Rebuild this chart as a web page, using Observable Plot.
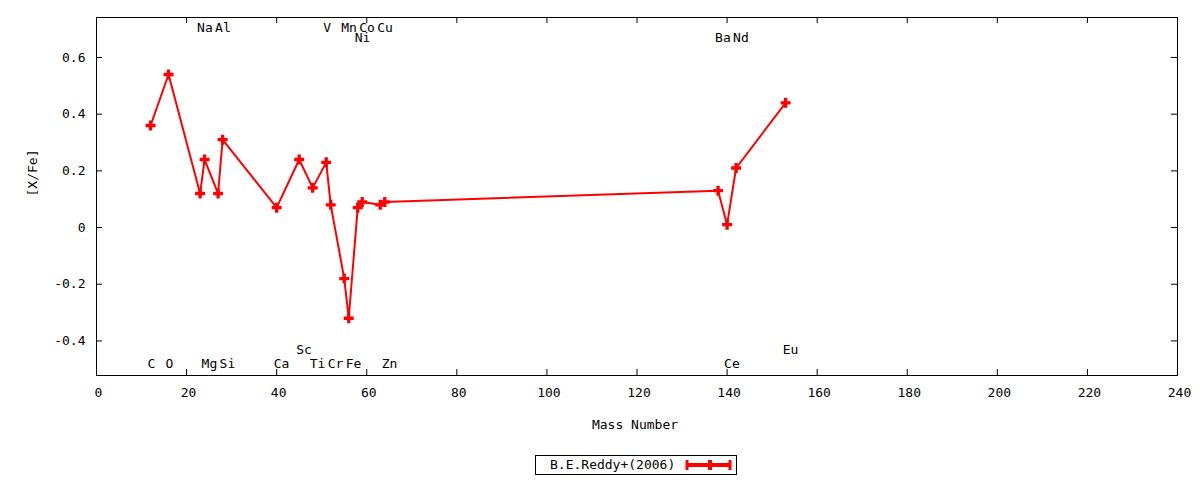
<!DOCTYPE html>
<html>
<head>
<meta charset="utf-8">
<script src="https://cdn.jsdelivr.net/npm/d3@7"></script>
<script src="https://cdn.jsdelivr.net/npm/@observablehq/plot@0.6"></script>
<style>
  body { margin: 0; background: white; font-family: "DejaVu Sans Mono", monospace; }
  #wrap { position: relative; width: 1200px; height: 480px; }
  #legend {
    position: absolute; left: 535px; top: 455px; width: 200px; height: 18px;
    border: 1px solid black; font-size: 13px; line-height: 18px;
  }
  #legend span { position: absolute; left: 14px; top: 0; }
  #legend svg { position: absolute; left: 148px; top: 0; }
</style>
</head>
<body>
<div id="wrap"></div>
<script>
// element, mass number, [X/Fe]
const elements = ["C", "O", "Na", "Mg", "Al", "Si", "Ca", "Sc", "Ti", "V", "Cr", "Mn", "Fe", "Ni", "Co", "Cu", "Zn", "Ba", "Ce", "Nd", "Eu"];
const massNumbers = [12, 16, 23, 24, 27, 28, 40, 45, 48, 51, 52, 55, 56, 58, 59, 63, 64, 138, 140, 142, 153];
const xfeValues = [0.36, 0.54, 0.12, 0.24, 0.12, 0.31, 0.07, 0.24, 0.14, 0.23, 0.08, -0.18, -0.32, 0.07, 0.09, 0.08, 0.09, 0.13, 0.01, 0.21, 0.44];
// which row each element name sits in
const labelRows = ["bottom", "bottom", "top", "bottom", "top", "bottom", "bottom", "bottom2", "bottom", "top", "bottom", "top", "bottom", "top2", "top", "top", "bottom", "top2", "bottom", "top2", "bottom2"];

const xTicks = [0, 20, 40, 60, 80, 100, 120, 140, 160, 180, 200, 220, 240];
const yTicks = [-0.4, -0.2, 0, 0.2, 0.4, 0.6];

const xDomain = [0, 240];
const yDomain = [-0.522, 0.741];

const rowY = {top: 0.706, top2: 0.671, bottom: -0.48, bottom2: -0.431};

const data = elements.map((el, i) => ({el, mass: massNumbers[i], xfe: xfeValues[i], row: labelRows[i]}));

const width = 1200, height = 445;
const margin = {top: 17, right: 23, bottom: 70, left: 96};

// inward tick length, 6px, in data units
const tickLenX = 6 / (width - margin.left - margin.right) * (xDomain[1] - xDomain[0]);
const tickLenY = 6 / (height - margin.top - margin.bottom) * (yDomain[1] - yDomain[0]);

const chart = Plot.plot({
  width, height,
  marginTop: margin.top, marginRight: margin.right,
  marginBottom: margin.bottom, marginLeft: margin.left,
  style: {fontFamily: "DejaVu Sans Mono", fontSize: "13px", background: "white", color: "black"},
  x: {domain: xDomain},
  y: {domain: yDomain},
  marks: [
    Plot.axisX({ticks: xTicks, tickSize: 0, tickPadding: 12, dx: 2, label: null, fontSize: 13, tickFormat: d => String(d)}),
    Plot.axisY({ticks: yTicks, tickSize: 0, tickPadding: 11, label: null, fontSize: 13, tickFormat: d => String(+d.toFixed(1))}),
    // inward ticks, mirrored on all four sides
    Plot.ruleX(xTicks.filter(d => d > xDomain[0] && d < xDomain[1]), {x: d => d, y1: yDomain[0], y2: yDomain[0] + tickLenY, stroke: "black"}),
    Plot.ruleX(xTicks.filter(d => d > xDomain[0] && d < xDomain[1]), {x: d => d, y1: yDomain[1], y2: yDomain[1] - tickLenY, stroke: "black"}),
    Plot.ruleY(yTicks, {y: d => d, x1: xDomain[0], x2: xDomain[0] + tickLenX, stroke: "black"}),
    Plot.ruleY(yTicks, {y: d => d, x1: xDomain[1], x2: xDomain[1] - tickLenX, stroke: "black"}),
    Plot.frame({stroke: "black"}),
    Plot.text(["Mass Number"], {frameAnchor: "bottom", dy: 53, dx: -2, fontSize: 13}),
    Plot.text(["[X/Fe]"], {frameAnchor: "left", dx: -64, rotate: -90, fontSize: 13}),
    // element names
    Plot.text(data, {x: "mass", y: d => rowY[d.row], text: "el", textAnchor: "start", dx: -3, fontSize: 13, fill: "black"}),
    Plot.line(data, {x: "mass", y: "xfe", stroke: "#ff0000", strokeWidth: 2}),
    Plot.dot(data, {x: "mass", y: "xfe", symbol: "cross", r: 4.2, fill: "#ff0000", stroke: "none"})
  ]
});

const wrap = document.getElementById("wrap");
wrap.append(chart);

const legend = document.createElement("div");
legend.id = "legend";
legend.innerHTML = `<span>B.E.Reddy+(2006)</span>
<svg width="48" height="18">
  <line x1="3" y1="9" x2="46" y2="9" stroke="#ff0000" stroke-width="4"/>
  <line x1="3" y1="4" x2="3" y2="14" stroke="#ff0000" stroke-width="3"/>
  <line x1="46" y1="4" x2="46" y2="14" stroke="#ff0000" stroke-width="3"/>
  <path d="M21,7h3v-3h4v3h3v4h-3v3h-4v-3h-3z" fill="#ff0000"/>
</svg>`;
wrap.append(legend);
</script>
</body>
</html>
